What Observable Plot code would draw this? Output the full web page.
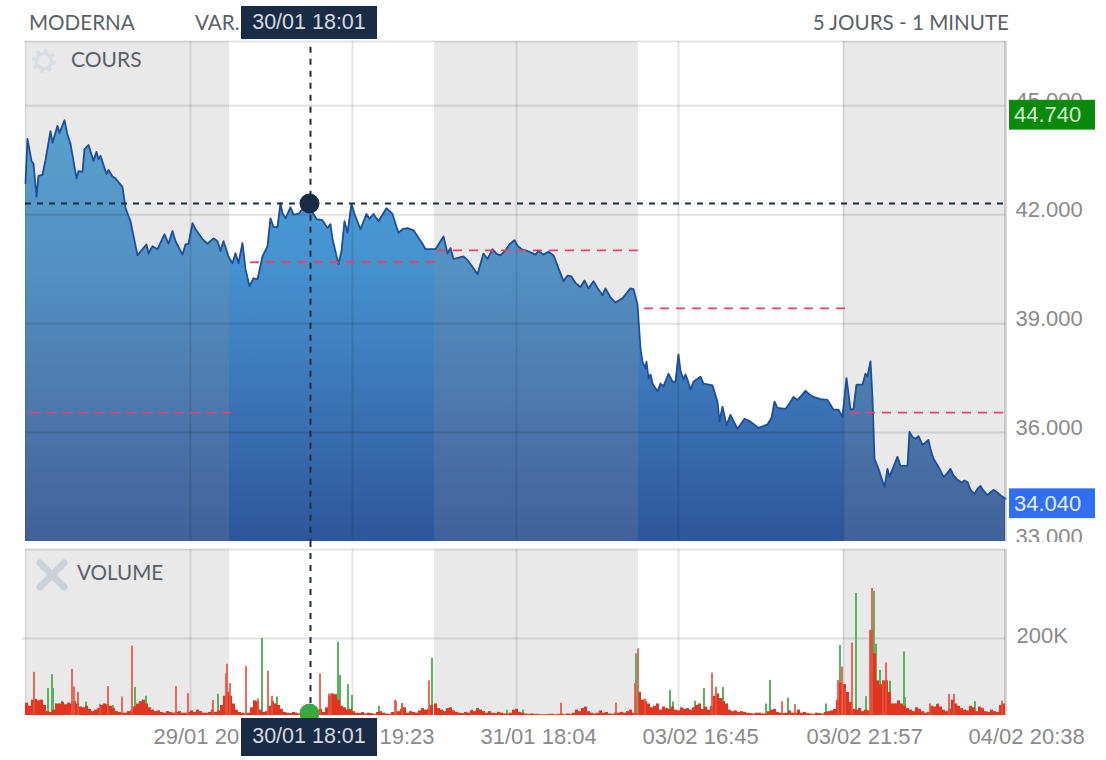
<!DOCTYPE html>
<html><head><meta charset="utf-8">
<script src="https://cdn.jsdelivr.net/npm/d3@7"></script>
<script src="https://cdn.jsdelivr.net/npm/@observablehq/plot@0.6"></script>
<style>
html,body{margin:0;padding:0;background:#fff;overflow:hidden}
#page{position:relative;width:1106px;height:760px;overflow:hidden}
#page svg.plot{position:absolute;left:0}
.hd{position:absolute;font-family:Lato,sans-serif;font-size:20.6px;color:#5a5f66;line-height:24px;white-space:nowrap}
.box{position:absolute;left:241px;width:136px;background:#1a2b45;color:#d5dbe3;font:21.5px "Liberation Sans",sans-serif;text-align:center}
</style></head><body><div id="page"></div>
<script>
// Session positions, in minutes of trading shown along the time axis
const sessionEdges = [0,204,409,613,818,980];
const gridMinutes = [165,327,491,653,818,980];
const priceTicks = [45,42,39,36,33];
const priceLabels = ["45.000","42.000","39.000","36.000","33.000"];
const volumeLabelMinute = [128,354,455,617,781,943];
const volumeLabels = ["29/01 20","19:23","31/01 18:04","03/02 16:45","03/02 21:57","04/02 20:38"];
const crossMinute = 285, crossPrice = 42.31;
const lastTags = [{v:44.74,t:"44.740",c:"#0a8a0a",tc:"#d6f0d0"},{v:34.04,t:"34.040",c:"#2f6ff0",tc:"#e2ebff"}];
const refLevels = [[5,207,36.55],[225,412,40.69],[412,613,41.02],[619,820,39.42],[825,980,36.55]];
// [minute, price]
const priceSeries = [[0,42.87],[2,44.09],[6,43.48],[8,43.4],[11,42.5],[13,43.07],[17,43.1],[20,43.5],[25,44.3],[27,43.98],[32,44.45],[34,44.25],[39,44.6],[42,44.2],[45,43.95],[51,43],[53,43.2],[57,43.18],[59,43.8],[63,43.92],[68,43.48],[71,43.73],[73,43.53],[75,43.62],[81,43.12],[83,43.23],[87,43.05],[90,43],[93,42.9],[97,42.76],[100,42.18],[105,41.82],[112,40.88],[117,41.05],[121,41.18],[123,40.93],[127,41.13],[132,41.05],[139,41.46],[143,41.2],[147,41.55],[150,41.27],[157,40.9],[160,41.18],[163,41.2],[167,41.77],[170,41.6],[177,41.33],[182,41.2],[188,41.35],[192,41.27],[195,41],[198,41.27],[203,40.85],[207,40.66],[210,40.94],[213,40.66],[217,41.22],[220,40.5],[224,40.03],[228,40.25],[232,40.22],[237,40.85],[242,41.13],[245,41.9],[248,41.66],[252,41.66],[255,42.32],[257,42.04],[260,41.9],[265,42.2],[268,42],[273,42.02],[278,42.18],[285,42.15],[291,41.88],[297,41.85],[302,41.63],[305,41.74],[307,41.33],[313,40.64],[316,41],[319,41.82],[322,41.5],[326,42.3],[329,42.02],[335,41.6],[341,42.02],[344,41.88],[348,42.02],[353,41.82],[361,42.18],[367,42.02],[370,41.75],[373,41.5],[377,41.6],[382,41.63],[388,41.57],[397,41.2],[400,41.05],[410,41.05],[418,41.4],[422,40.93],[425,41.08],[428,40.78],[438,40.85],[442,40.75],[446,40.6],[452,40.36],[458,40.93],[462,40.78],[467,41.05],[471,40.92],[475,40.88],[480,41.02],[484,41.18],[489,41.3],[492,41.15],[496,41.05],[502,41],[506,40.95],[510,40.9],[513,41],[518,40.9],[523,40.98],[528,40.88],[538,40.17],[542,40.32],[546,40.3],[550,40.12],[555,40],[559,40.19],[563,39.97],[568,40.17],[572,39.98],[577,39.78],[580,39.97],[585,39.72],[590,39.58],[597,39.7],[605,39.97],[608,39.95],[612,39.53],[615,38.31],[617,37.95],[620,37.77],[621,37.95],[623,37.49],[625,37.6],[627,37.35],[632,37.13],[635,37.35],[638,37.27],[643,37.62],[647,37.4],[650,37.4],[653,38.15],[655,37.7],[658,37.46],[660,37.6],[662,37.46],[665,37.18],[668,37.4],[675,37.54],[678,37.35],[687,37.3],[692,36.85],[694,36.3],[697,36.71],[701,36.2],[705,36.49],[712,36.1],[719,36.38],[725,36.3],[733,36.13],[742,36.22],[746,36.4],[749,36.85],[752,36.68],[760,36.65],[764,36.8],[768,36.98],[772,36.9],[776,37.02],[780,37.15],[784,37.05],[788,36.98],[795,36.92],[802,36.9],[808,36.63],[813,36.63],[817,36.43],[821,37.5],[825,36.63],[828,36.65],[831,37.32],[837,37.32],[840,37.62],[842,37.54],[845,37.96],[847,36.93],[849,35.28],[853,35],[859,34.5],[862,35],[864,34.78],[872,35.33],[875,35.08],[882,35.08],[884,36.02],[887,35.88],[890,35.83],[893,35.9],[897,35.66],[900,35.72],[903,35.8],[905,35.55],[908,35.28],[912,35.1],[915,34.95],[918,34.78],[921,34.85],[925,35],[928,34.82],[932,34.7],[936,34.62],[939,34.68],[942,34.64],[945,34.42],[949,34.31],[952,34.45],[955,34.53],[958,34.4],[962,34.28],[965,34.35],[968,34.42],[972,34.35],[976,34.25],[980,34.18]];
// dense traded volume in thousands, one value every 3 minutes per session
const volumeS1 = [32,24,40,42,38,40,26,10,8,14,30,30,34,28,32,30,36,30,22,20,24,16,10,14,18,26,30,28,24,18,10,8,6,6,10,12,22,30,36,40,30,20,14,10,12,8,6,10,8,6,8,10,6,6,8,12,8,14,10,6,6,8,14,8,12,26,50,60];
const volumeS2 = [50,30,14,8,6,4,6,20,38,36,14,8,10,24,36,30,26,16,8,6,5,8,6,4,4,3,4,3,3,6,16,8,20,50,56,54,40,24,20,14,16,10,6,5,8,4,6,5,3,8,10,6,4,3,8,6,10,16,20,6,10,8,6,12,18,14,16,26];
const volumeS3 = [30,18,14,10,18,20,12,8,6,5,8,6,12,10,18,14,10,6,10,6,5,8,6,4,4,6,14,16,8,6,4,3,4,3,3,2,2,2,3,3,2,3,4,2,4,3,6,14,10,18,22,10,6,4,6,12,6,8,4,3,6,6,8,6,10,14,6,5];
const volumeS4 = [60,40,36,30,20,24,30,14,22,18,16,22,14,12,20,16,18,14,20,26,30,16,22,14,24,50,56,44,36,30,14,10,12,8,10,8,6,5,4,6,6,4,4,10,14,16,8,6,5,6,12,6,6,14,6,8,5,4,3,6,5,4,8,10,12,16,40,84];
const volumeS5 = [80,60,34,16,14,18,10,14,12,220,160,90,80,90,90,60,30,30,38,30,24,18,14,10,20,16,10,6,8,24,22,28,22,14,10,16,40,30,24,18,14,12,24,20,10,22,18,10,8,14,10,8,26,30];
// isolated spikes [minute, thousands]
const spikesRed = [[9,112],[47,120],[49,74],[53,60],[75,29],[83,75],[97,48],[107,180],[151,75],[163,57],[188,39],[201,108],[202,133],[205,83],[221,127],[233,43],[243,115],[247,50],[295,108],[304,56],[306,56],[370,39],[371,36],[377,30],[404,90],[536,32],[591,32],[610,83],[613,173],[620,43],[687,110],[691,73],[757,36],[770,28],[813,91],[817,126],[820,70],[827,188],[845,221],[847,330],[858,91],[861,136],[905,30],[924,55],[929,55],[977,37]];
const spikesGreen = [[23,70],[27,106],[28,70],[37,37],[61,35],[88,26],[110,73],[121,50],[193,55],[237,200],[252,48],[313,190],[315,104],[323,80],[327,52],[354,24],[377,31],[407,148],[447,14],[482,14],[498,14],[611,160],[645,65],[648,35],[670,37],[679,70],[693,50],[698,73],[745,91],[741,30],[763,45],[801,30],[815,182],[831,317],[841,49],[849,322],[851,185],[855,117],[865,89],[879,165],[880,47],[913,30],[950,36]];

const xDom = {domain:[0,980], range:[25,1005]};
const priceDom = {domain:[33,46.77], range:[541,41]};
const volDom = {domain:[0,431], range:[173,7]};
const numFont = '"Liberation Sans",sans-serif';
const price = priceSeries.map(([m,v])=>({m,v}));
const zones = d3.pairs(sessionEdges).map(([a,b],i)=>({a,b,i})).filter(d=>d.i%2===0);
const gradient = () => {
  const defs = d3.create("svg:defs");
  const g = defs.append("linearGradient").attr("id","priceFill").attr("x1",0).attr("x2",0).attr("y1",0).attr("y2",1);
  g.append("stop").attr("offset","0").attr("stop-color","#4ba5dc");
  g.append("stop").attr("offset","0.35").attr("stop-color","#4591cf");
  g.append("stop").attr("offset","0.72").attr("stop-color","#3a6fb2");
  g.append("stop").attr("offset","1").attr("stop-color","#2d569c");
  return defs.node();
};
const crossStyle = {stroke:"#1f2d42",strokeWidth:2,strokeDasharray:"6,6"};

const priceChart = Plot.plot({
  width:1106,height:542,margin:0,marginTop:0,marginBottom:0,marginLeft:0,marginRight:0,
  x:{...xDom,axis:null},y:{...priceDom,axis:null},style:{background:"transparent",overflow:"hidden"},
  marks:[
    gradient,
    Plot.areaY(price,{x:"m",y1:33,y2:"v",fill:"url(#priceFill)",curve:"linear"}),
    Plot.rect(zones,{x1:"a",x2:"b",y1:33,y2:46.77,fill:"#919191",fillOpacity:0.2}),
    Plot.ruleY(priceTicks.slice(0,4),{x1:0,x2:980,stroke:"#000",strokeOpacity:0.11,strokeWidth:2}),
    Plot.ruleX(gridMinutes,{y1:33,y2:46.77,stroke:"#000",strokeOpacity:0.1,strokeWidth:2}),
    Plot.ruleX([0],{y1:33,y2:46.77,stroke:"#000",strokeOpacity:0.08,strokeWidth:1.5}),
    Plot.ruleX([980],{y1:33,y2:46.77,stroke:"#000",strokeOpacity:0.1,strokeWidth:3}),
    Plot.ruleY([46.77],{x1:0,x2:980,stroke:"#000",strokeOpacity:0.1,strokeWidth:2}),
    Plot.line(price,{x:"m",y:"v",stroke:"#1b4f9d",strokeWidth:1.8,curve:"linear"}),
    Plot.ruleY(refLevels,{x1:d=>d[0],x2:d=>d[1],y:d=>d[2],stroke:"#e8436a",strokeWidth:1.8,strokeDasharray:"9,7"}),
    Plot.ruleY([crossPrice],{x1:0,x2:980,...crossStyle}),
    Plot.ruleX([crossMinute],{y1:32.9,y2:46.77,...crossStyle}),
    Plot.dot([[crossMinute,crossPrice]],{x:d=>d[0]-1,y:d=>d[1],r:10,fill:"#1a2b45"}),
    Plot.text(priceLabels,{x:990,y:(d,i)=>priceTicks[i],dy:-4.5,text:d=>d,textAnchor:"start",fontSize:22,fontFamily:numFont,fill:"#8a8a8a"}),
    Plot.rect(lastTags,{x1:984,x2:1070,y1:d=>d.v-0.41,y2:d=>d.v+0.41,fill:"c"}),
    Plot.text(lastTags,{x:988.5,y:"v",text:"t",textAnchor:"start",fontSize:22,fontFamily:numFont,fill:"tc"})
  ]
});

const spike = (arr)=>arr.map(([m,k])=>({m,k}));
const base = [[volumeS1,0],[volumeS2,204],[volumeS3,409],[volumeS4,613],[volumeS5,818]]
  .flatMap(([a,o])=>a.map((k,i)=>({m:o+i*3,k})));
const volumeChart = Plot.plot({
  width:1106,height:218,margin:0,marginTop:0,marginBottom:0,marginLeft:0,marginRight:0,
  x:{...xDom,axis:null},y:{...volDom,axis:null},style:{background:"transparent",overflow:"visible"},
  marks:[
    Plot.rect(zones,{x1:"a",x2:"b",y1:0,y2:431,fill:"#919191",fillOpacity:0.2}),
    Plot.ruleY([200],{x1:-3,x2:980,stroke:"#000",strokeOpacity:0.11,strokeWidth:2}),
    Plot.ruleX(gridMinutes,{y1:0,y2:431,stroke:"#000",strokeOpacity:0.1,strokeWidth:2}),
    Plot.ruleX([0],{y1:0,y2:431,stroke:"#000",strokeOpacity:0.08,strokeWidth:1.5}),
    Plot.ruleX([980],{y1:0,y2:431,stroke:"#000",strokeOpacity:0.1,strokeWidth:3}),
    Plot.ruleY([431],{x1:0,x2:980,stroke:"#000",strokeOpacity:0.1,strokeWidth:2}),
    Plot.rect(spike(spikesGreen),{x1:d=>d.m-1,x2:d=>d.m+1,y1:0,y2:"k",fill:"#58b25e"}),
    Plot.rect(base,{x1:"m",x2:d=>d.m+3,y1:0,y2:"k",fill:"#e2351f"}),
    Plot.rect(spike(spikesRed),{x1:d=>d.m-1,x2:d=>d.m+1,y1:0,y2:"k",fill:"#e8523f",fillOpacity:0.85}),
    Plot.ruleX([crossMinute],{y1:0,y2:449,...crossStyle}),
    Plot.dot([[crossMinute,5]],{x:d=>d[0]-1,y:d=>d[1],r:10,fill:"#3aa83e"}),
    Plot.text(["200K"],{x:991,y:200,dy:-3,text:d=>d,textAnchor:"start",fontSize:22,fontFamily:numFont,fill:"#8a8a8a"}),
    Plot.text(volumeLabels,{x:(d,i)=>volumeLabelMinute[i],y:0,dy:21,text:d=>d,textAnchor:"start",fontSize:22,fontFamily:numFont,fill:"#8a8a8a"})
  ]
});
priceChart.setAttribute("class","plot"); volumeChart.setAttribute("class","plot");
priceChart.style.top="0px"; volumeChart.style.top="542px";
const page=document.getElementById("page");
page.append(priceChart,volumeChart);
const add=(css,cls,txt)=>{const d=document.createElement("div");d.className=cls;d.style.cssText=css;d.textContent=txt;page.append(d);return d;};
add("left:29px;top:10px","hd","MODERNA");
add("left:195px;top:10px","hd","VAR.");
add("right:97px;top:10px","hd","5 JOURS - 1 MINUTE");
add("left:71px;top:47px;font-size:21px","hd","COURS");
add("left:77px;top:560px","hd","VOLUME");
add("top:6px;height:33px;line-height:32px","box","30/01 18:01");
add("top:718px;height:38px;line-height:36px","box","30/01 18:01");
page.insertAdjacentHTML("beforeend",`<svg style="position:absolute;left:30px;top:47px" width="28" height="28"><circle cx="14" cy="14" r="7.5" fill="none" stroke="#d9dde2" stroke-width="3.5"/><circle cx="14" cy="14" r="10.5" fill="none" stroke="#d9dde2" stroke-width="3" stroke-dasharray="4,4.2"/></svg>
<svg style="position:absolute;left:36px;top:559px" width="32" height="32"><path d="M4 4L28 28M28 4L4 28" stroke="#ccd1d8" stroke-width="7" stroke-linecap="round"/></svg>`);
</script></body></html>
